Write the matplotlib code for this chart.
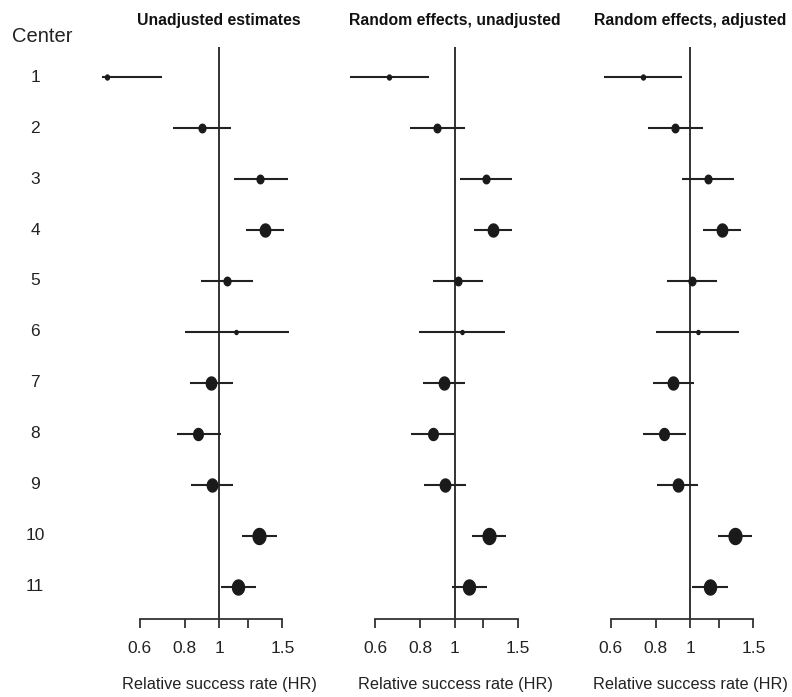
import numpy as np
import matplotlib
matplotlib.use('Agg')
import matplotlib.pyplot as plt
from matplotlib.transforms import blended_transform_factory

plt.rcParams['font.family'] = 'Liberation Sans'

centers = ['1', '2', '3', '4', '5', '6', '7', '8', '9', '10', '11']
# relative weight of each center (drives the dot size)
weights = [5, 8.5, 8.5, 13, 8.5, 4, 13, 12, 13, 16, 15]

titles = ['Unadjusted estimates', 'Random effects, unadjusted', 'Random effects, adjusted']

# hazard ratios with lower / upper limits, one set per panel
hr_unadj = [0.485, 0.893, 1.30, 1.34, 1.05, 1.11, 0.95, 0.874, 0.954, 1.29, 1.127]
lo_unadj = [0.471, 0.744, 1.10, 1.19, 0.89, 0.80, 0.83, 0.76, 0.834, 1.16, 1.01]
hi_unadj = [0.694, 1.076, 1.55, 1.52, 1.24, 1.56, 1.09, 1.01, 1.094, 1.445, 1.266]

hr_re = [0.656, 0.893, 1.22, 1.276, 1.02, 1.046, 0.934, 0.867, 0.936, 1.242, 1.092]
lo_re = [0.51, 0.749, 1.033, 1.132, 0.87, 0.795, 0.816, 0.754, 0.821, 1.118, 0.979]
hi_re = [0.848, 1.066, 1.445, 1.445, 1.20, 1.379, 1.068, 1.0, 1.071, 1.388, 1.226]

hr_adj = [0.736, 0.906, 1.118, 1.226, 1.011, 1.049, 0.897, 0.846, 0.922, 1.333, 1.133]
lo_adj = [0.574, 0.762, 0.946, 1.083, 0.862, 0.804, 0.785, 0.738, 0.809, 1.197, 1.009]
hi_adj = [0.946, 1.083, 1.325, 1.388, 1.187, 1.365, 1.022, 0.975, 1.053, 1.49, 1.272]

panels = [(hr_unadj, lo_unadj, hi_unadj),
          (hr_re, lo_re, hi_re),
          (hr_adj, lo_adj, hi_adj)]

xticks = [0.6, 0.8, 1, 1.2, 1.5]
xticklabels = ['0.6', '0.8', '1', '', '1.5']

# slightly tall ellipse used as the point marker
t = np.linspace(0, 2 * np.pi, 60)
ellipse = list(zip(0.8 * np.cos(t), np.sin(t)))

W, H = 792, 697
fig = plt.figure(figsize=(W / 100, H / 100), dpi=100)

lefts = [94.9, 330.6, 565.9]
axes = []
for left, title, (hr, lo, hi) in zip(lefts, titles, panels):
    ax = fig.add_axes([left / W, 1 - 619 / H, 199.5 / W, (619 - 47) / H])
    axes.append(ax)
    ax.set_xscale('log')
    ax.set_xlim(0.45, 1.62)
    ax.set_ylim(11.63, 0.41)
    ypos = np.arange(1, len(centers) + 1)

    ax.axvline(1, color='#333333', lw=1.4, zorder=1)
    ax.hlines(ypos, lo, hi, color='#222222', lw=1.5, zorder=2)
    for y, h, w in zip(ypos, hr, weights):
        ax.plot(h, y, marker=ellipse, ms=w * 0.72, color='#1a1a1a',
                mec='#1a1a1a', ls='none', zorder=3)

    for s in ['top', 'left', 'right']:
        ax.spines[s].set_visible(False)
    ax.spines['bottom'].set_bounds(0.6, 1.5)
    ax.spines['bottom'].set_linewidth(1.3)
    ax.spines['bottom'].set_color('#333333')
    ax.set_yticks([])
    ax.set_xticks(xticks)
    ax.set_xticklabels(xticklabels)
    ax.xaxis.set_minor_locator(plt.NullLocator())
    ax.tick_params(axis='x', direction='out', length=6.5, width=1.3,
                   color='#333333', labelsize=12.5, pad=9, labelcolor='#222222')

    tr = blended_transform_factory(ax.transData, fig.transFigure)
    ax.text(1, 1 - 20 / H, title, transform=tr, ha='center', va='center',
            fontsize=11.3, fontweight='bold', color='#111111')
    ax.text(1, 1 - 685 / H, 'Relative success rate (HR)', transform=tr,
            ha='center', va='center', fontsize=11.7, color='#222222')

# center numbers down the left side
tr = blended_transform_factory(fig.transFigure, axes[0].transData)
for i, c in enumerate(centers):
    axes[0].text(35 / W, i + 1, c, transform=tr, ha='center', va='center',
                 fontsize=12.5, color='#222222')
fig.text(12 / W, 1 - 36 / H, 'Center', ha='left', va='center',
         fontsize=14.5, color='#222222')

fig.savefig('out.png', dpi=100)
